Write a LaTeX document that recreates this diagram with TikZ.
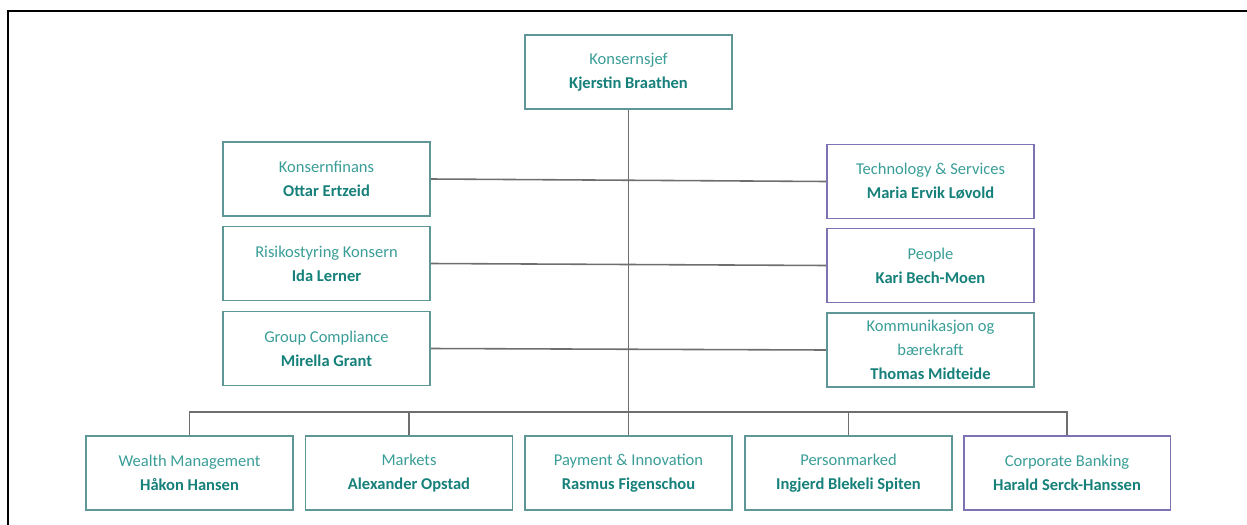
\documentclass[tikz,border=0pt]{standalone}
\usepackage{fontspec}
\setmainfont{Carlito}
\usepackage{tikz}
\usetikzlibrary{positioning,calc}
\definecolor{roletxt}{HTML}{3A9E98}
\definecolor{nametxt}{HTML}{16807A}
\definecolor{tealline}{HTML}{5E9795}
\definecolor{purpline}{HTML}{7F72B2}
\definecolor{linkgray}{HTML}{6E6E6E}
\tikzset{
  unit/.style={draw=#1, line width=1.1pt, fill=white, align=center, inner sep=2pt,
               minimum width=4.14cm, minimum height=1.48cm, text=roletxt,
               font=\fontsize{9.4}{13.6}\selectfont},
  unit/.default=tealline,
  link/.style={draw=linkgray, line width=0.9pt},
  frameline/.style={draw=black, line width=1.7pt},
}
\newcommand{\who}[1]{\textbf{\textcolor{nametxt}{#1}}}

\begin{document}
\begin{tikzpicture}[x=0.02cm, y=-0.02cm]
  \useasboundingbox (0,0) rectangle (1247,524);
  \draw[frameline] (8,525) -- (8,11) -- (1248,11);
  % top
  \node[unit] (ceo) at (628.5,72) {Konsernsjef\\\who{Kjerstin Braathen}};
  % staff, left
  \node[unit] (fin) at (326.5,179) {Konsernfinans\\\who{Ottar Ertzeid}};
  \node[unit] (risk) at (326.5,263.5) {Risikostyring Konsern\\\who{Ida Lerner}};
  \node[unit] (comp) at (326.5,348.5) {Group Compliance\\\who{Mirella Grant}};
  % staff, right
  \node[unit=purpline] (tech) at (930.5,181.5) {Technology \& Services\\\who{Maria Ervik Løvold}};
  \node[unit=purpline] (people) at (930.5,265.5) {People\\\who{Kari Bech-Moen}};
  \node[unit] (comm) at (930.5,350) {Kommunikasjon og\\bærekraft\\\who{Thomas Midteide}};
  % business areas
  \node[unit] (wealth) at (189.5,473) {Wealth Management\\\who{Håkon Hansen}};
  \node[unit] (markets) at (409,473) {Markets\\\who{Alexander Opstad}};
  \node[unit] (pay) at (628.5,473) {Payment \& Innovation\\\who{Rasmus Figenschou}};
  \node[unit] (priv) at (848.5,473) {Personmarked\\\who{Ingjerd Blekeli Spiten}};
  \node[unit=purpline] (corp) at (1067,473) {Corporate Banking\\\who{Harald Serck-Hanssen}};
  \coordinate (bus) at (629,412);
  \draw[link] (fin.east) -- (tech.west);
  \draw[link] (risk.east) -- (people.west);
  \draw[link] (comp.east) -- (comm.west);
  \draw[link] (ceo.south) -- (pay.north);
  \draw[link] (wealth.north) -- (wealth.north |- bus) -- (corp.north |- bus) -- (corp.north);
  \draw[link] (markets.north) -- (markets.north |- bus);
  \draw[link] (priv.north) -- (priv.north |- bus);
\end{tikzpicture}
\end{document}
